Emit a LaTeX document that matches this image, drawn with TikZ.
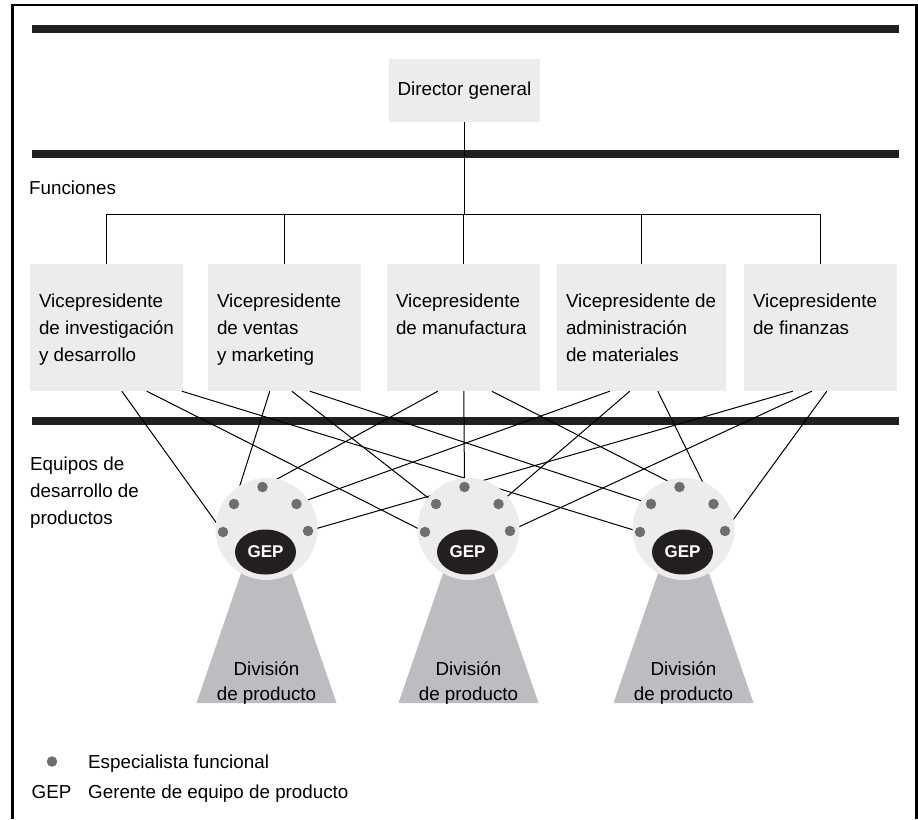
\documentclass[tikz,border=0pt]{standalone}
\usepackage{fontspec}
\setmainfont{Liberation Sans}
\usepackage{tikz}
\usetikzlibrary{calc,shapes.geometric}
\definecolor{barblack}{RGB}{35,31,32}
\definecolor{boxgray}{RGB}{236,236,236}
\definecolor{dotgray}{RGB}{109,110,113}
\definecolor{divgray}{RGB}{188,189,192}

\tikzset{
thickbar/.style={line width=8pt,barblack},
link/.style={line width=1pt,black},
vpbox/.style={fill=boxgray,minimum height=127pt,inner sep=0pt},
vptext/.style={anchor=north west,align=left,inner sep=0pt},
team/.style={circle,fill=boxgray,minimum size=102pt,inner sep=0pt},
spec/.style={circle,fill=dotgray,minimum size=10.5pt,inner sep=0pt},
gep/.style={ellipse,fill=barblack,text=white,minimum width=61pt,minimum height=45pt,inner sep=0pt,font=\fontsize{17}{20}\bfseries},
divtext/.style={anchor=north,align=center,inner sep=0pt,font=\fontsize{18.8}{25}\selectfont}
}

\begin{document}
\begin{tikzpicture}[x=1pt,y=-1pt,font=\fontsize{18.8}{27}\selectfont]

\def\barl{32};
\def\barr{899};
\def\teamy{529};
\def\busy{214};

\useasboundingbox (0,0) rectangle (918,819);

\draw [line width=2.5pt] (12.5,819) -- (12.5,5) -- (916.5,5) -- (916.5,819);

\foreach \y in {29,153.5,420.5}
{
\draw [thickbar] (\barl,\y) -- (\barr,\y);
}

\node [vpbox, minimum width=151pt, minimum height=63pt] (DG) at (464.5,90.5) {Director general};

\foreach \n/\x/\w in {1/106.5/153,2/284.5/153,3/463.5/153,4/641.5/169,5/820.5/153}
{
\node [vpbox, minimum width=\w pt] (V\n) at (\x,327.5) {};
}

\coordinate (bus) at (464.5,\busy);
\draw [link] (DG.south) -- (bus);
\draw [link] (V1.north |- bus) -- (V5.north |- bus);
\foreach \n in {1,...,5}
{
\draw [link] (V\n.north |- bus) -- (V\n.north);
}

\node [vptext] (T1) at ([shift={(9,29.5)}]V1.north west) {Vicepresidente\\de investigación\\y desarrollo};
\node [vptext] (T2) at ([shift={(9,29.5)}]V2.north west) {Vicepresidente\\de ventas\\y marketing};
\node [vptext] (T3) at ([shift={(9,29.5)}]V3.north west) {Vicepresidente\\de manufactura};
\node [vptext] (T4) at ([shift={(9,29.5)}]V4.north west) {Vicepresidente de\\administración\\de materiales};
\node [vptext] (T5) at ([shift={(9,29.5)}]V5.north west) {Vicepresidente\\de finanzas};

\node [anchor=base west, inner sep=0pt] (FN) at (29,194) {Funciones};
\node [vptext] (EQ) at (30,456.5) {Equipos de\\desarrollo de\\productos};

\foreach \t/\x in {1/266.5,2/468.5,3/683.5}
{
\coordinate (C\t) at (\x,\teamy);
\foreach \d/\dx/\dy in {1/-43.5/3,2/-32.5/-25,3/-4/-42,4/30/-25,5/41.5/2}
{
\coordinate (D\t\d) at ([shift={(\dx,\dy)}]C\t);
}
}

\foreach \n/\a/\b/\c in {1/92/117/152,2/62/84/102,3/51/77/105,4/53/73/101,5/49/68/83}
{
\draw [link] ([xshift=\a pt]V\n.south west) -- (D1\n);
\draw [link] ([xshift=\b pt]V\n.south west) -- (D2\n);
\draw [link] ([xshift=\c pt]V\n.south west) -- (D3\n);
}

\foreach \t in {1,2,3}
{
\fill [divgray] ([shift={(-24,40)}]C\t) -- ([shift={(24,40)}]C\t) -- ([shift={(70,174)}]C\t) -- ([shift={(-70,174)}]C\t) -- cycle;
\node [team] (E\t) at (C\t) {};
\foreach \d in {1,...,5}
{
\node [spec] (S\t\d) at (D\t\d) {};
}
\node [gep] (G\t) at ([shift={(-1,23)}]C\t) {GEP};
\node [divtext] (P\t) at ([yshift=-132pt]C\t) {División\\de producto};
}

\node [spec] (L1) at (52,761.5) {};
\node [anchor=base west, inner sep=0pt] (L1T) at (88,768) {Especialista funcional};
\node [anchor=base, inner sep=0pt] (L2) at (51.5,798) {GEP};
\node [anchor=base west, inner sep=0pt] (L2T) at (88,798) {Gerente de equipo de producto};

\end{tikzpicture}
\end{document}
